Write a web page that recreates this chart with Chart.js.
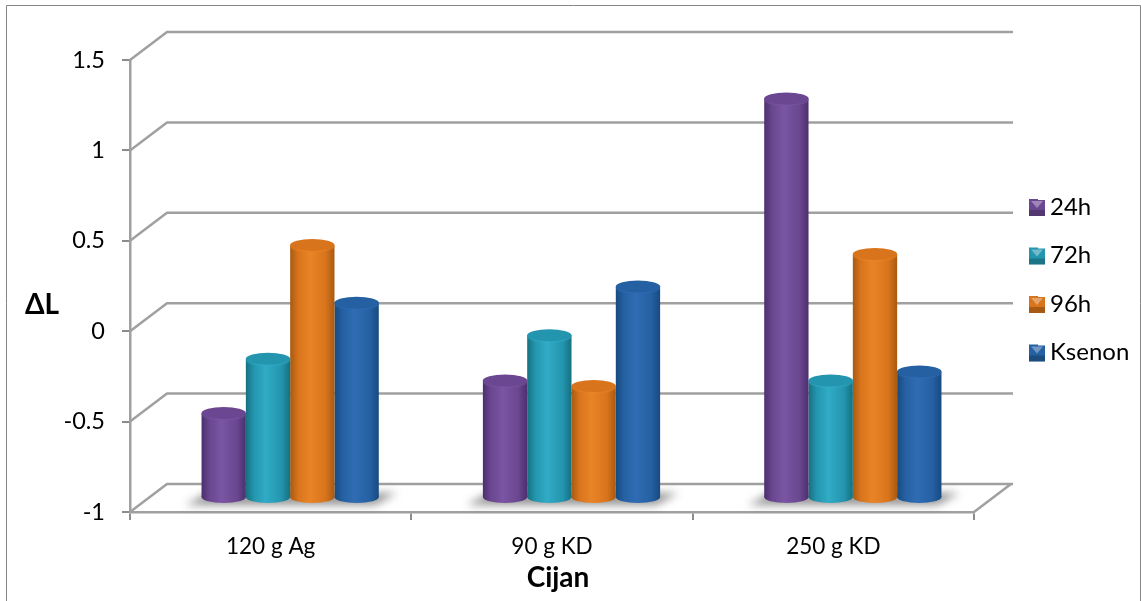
<!DOCTYPE html>
<html>
<head>
<meta charset="utf-8">
<title>Cijan</title>
<script src="https://cdn.jsdelivr.net/npm/chart.js@4/dist/chart.umd.min.js"></script>
<style>
  html, body { margin: 0; background: #fff; }
  canvas { display: block; }
</style>
</head>
<body>
<canvas id="chart" width="1141" height="601"></canvas>
<script>
// Values
const categories = ['120 g Ag', '90 g KD', '250 g KD'];
const seriesNames = ['24h', '72h', '96h', 'Ksenon'];
const values24h = [-0.53, -0.35, 1.21];
const values72h = [-0.23, -0.10, -0.35];
const values96h = [0.40, -0.38, 0.35];
const valuesKsenon = [0.08, 0.17, -0.30];
const seriesValues = [values24h, values72h, values96h, valuesKsenon];

// [edge, mid, light] tone of each cylinder
const SERIES_TONES = [
    ['#4c2f6e', '#6a4790', '#7a55a3'],
    ['#15707f', '#2495ae', '#31abc6'],
    ['#a85a12', '#d8741c', '#e98426'],
    ['#174a80', '#2560a2', '#2f6cb3']
];

const FONT = 'Lato, Carlito, "Open Sans", sans-serif';
const GRID_COLOR = '#a0a0a0';
const DEPTH_X = 37;
const DEPTH_Y = 28;
const BAR_SHIFT_X = 19.5;
const BAR_SHIFT_Y = 14;
const CAP_RY = 6;
const LEGEND_FONT_SIZE = 24;
const LEGEND_PADDING = 24.5;
const LEGEND_PITCH = LEGEND_FONT_SIZE + LEGEND_PADDING;

function cylinderGradient(ctx, left, right, tones) {
    const g = ctx.createLinearGradient(left, 0, right, 0);
    g.addColorStop(0, tones[0]);
    g.addColorStop(0.18, tones[1]);
    g.addColorStop(0.45, tones[2]);
    g.addColorStop(0.8, tones[1]);
    g.addColorStop(1, tones[0]);
    return g;
}

function ellipse(ctx, x, y, rx, ry) {
    ctx.beginPath();
    ctx.ellipse(x, y, rx, ry, 0, 0, Math.PI * 2);
    ctx.fill();
}

function boldLabel(ctx, text, x, y) {
    ctx.save();
    ctx.font = 'bold 28px ' + FONT;
    ctx.fillStyle = '#000';
    ctx.textAlign = 'center';
    ctx.textBaseline = 'middle';
    ctx.fillText(text, x, y);
    ctx.restore();
}

// Back wall, floor, frame and the floor shadows
const cylinderPlugin = {
    id: 'cylinder3d',
    beforeLayout(chart) {
        // legend keeps a fixed column so the plot ends where the picture's does
        const legend = chart.legend;
        if (!legend._fitWrapped) {
            const fit = legend.fit;
            legend.fit = function () {
                fit.call(this);
                this.width = 167;
            };
            legend._fitWrapped = true;
        }
    },
    afterLayout(chart) {
        chart.legend.left = 1029 - LEGEND_PADDING;
        chart.legend.top = 207 - LEGEND_FONT_SIZE / 2 - LEGEND_PADDING;
    },
    beforeDatasetsDraw(chart) {
        const ctx = chart.ctx;
        const yScale = chart.scales.y;
        const area = chart.chartArea;

        ctx.save();
        ctx.strokeStyle = GRID_COLOR;
        ctx.lineWidth = 2.5;
        ctx.lineJoin = 'round';
        yScale.ticks.forEach(tick => {
            const y = yScale.getPixelForValue(tick.value);
            ctx.beginPath();
            ctx.moveTo(area.left, y);
            ctx.lineTo(area.left + DEPTH_X, y - DEPTH_Y);
            ctx.lineTo(area.right + DEPTH_X + 2, y - DEPTH_Y);
            ctx.stroke();
        });
        ctx.beginPath();
        ctx.moveTo(area.right + DEPTH_X, area.bottom - DEPTH_Y);
        ctx.lineTo(area.right, area.bottom);
        ctx.stroke();
        ctx.restore();

        // the outer frame has no bottom edge in the picture
        ctx.save();
        ctx.strokeStyle = '#868686';
        ctx.lineWidth = 1;
        ctx.beginPath();
        ctx.moveTo(6.5, 601);
        ctx.lineTo(6.5, 5.5);
        ctx.lineTo(1140.5, 5.5);
        ctx.lineTo(1140.5, 601);
        ctx.stroke();
        ctx.restore();

        // everything from here to afterDatasetsDraw sits mid depth
        ctx.save();
        ctx.translate(BAR_SHIFT_X, -BAR_SHIFT_Y);

        const metas = seriesValues.map((_, i) => chart.getDatasetMeta(i));
        const base = yScale.getPixelForValue(-1);

        categories.forEach((_, c) => {
            const first = metas[0].data[c];
            const last = metas[metas.length - 1].data[c];
            const left = first.x - first.width / 2;
            const right = last.x + last.width / 2;
            ctx.save();
            ctx.filter = 'blur(4px)';
            ctx.fillStyle = 'rgba(40, 40, 40, 0.5)';
            ctx.beginPath();
            ctx.moveTo(left - 16, base + 7);
            ctx.lineTo(right - 4, base + 7);
            ctx.lineTo(right + 18, base - 5);
            ctx.lineTo(left + 6, base - 5);
            ctx.closePath();
            ctx.fill();
            ctx.restore();
        });

        metas.forEach((meta, s) => {
            meta.data.forEach(el => {
                const left = el.x - el.width / 2;
                const right = el.x + el.width / 2;
                const grad = cylinderGradient(ctx, left, right, SERIES_TONES[s]);
                el.options = Object.assign({}, el.options, { backgroundColor: grad });
                // round foot of the cylinder
                ctx.fillStyle = grad;
                ellipse(ctx, el.x, el.base, el.width / 2, CAP_RY);
            });
        });
    },
    afterDatasetsDraw(chart) {
        const ctx = chart.ctx;
        seriesValues.forEach((_, s) => {
            chart.getDatasetMeta(s).data.forEach(el => {
                const tones = SERIES_TONES[s];
                const rx = el.width / 2;
                ctx.save();
                ctx.fillStyle = tones[2];
                ctx.globalAlpha = 0.55;
                ellipse(ctx, el.x, el.y + 1.5, rx, CAP_RY);
                ctx.globalAlpha = 1;
                ctx.fillStyle = tones[1];
                ellipse(ctx, el.x, el.y, rx, CAP_RY);
                ctx.restore();
            });
        });
        ctx.restore();
    },
    afterDraw(chart) {
        const ctx = chart.ctx;
        const legend = chart.legend;

        // legend keys with the small lit wedge
        seriesValues.forEach((_, s) => {
            const x = legend.left + LEGEND_PADDING;
            const y = 200 + s * LEGEND_PITCH;
            ctx.save();
            ctx.fillStyle = SERIES_TONES[s][1];
            ctx.fillRect(x, y, 16, 16);
            ctx.fillStyle = 'rgba(255, 255, 255, 0.35)';
            ctx.beginPath();
            ctx.moveTo(x + 2, y + 1);
            ctx.lineTo(x + 14, y + 1);
            ctx.lineTo(x + 8, y + 8);
            ctx.closePath();
            ctx.fill();
            ctx.fillStyle = 'rgba(0, 0, 0, 0.22)';
            ctx.fillRect(x, y + 10, 16, 6);
            ctx.restore();
        });

        // axis titles sit off centre in the picture
        boldLabel(ctx, 'ΔL', 42, 305);
        boldLabel(ctx, 'Cijan', 558, 578);
    }
};

new Chart(document.getElementById('chart'), {
    type: 'bar',
    data: {
        labels: categories,
        datasets: seriesNames.map((name, i) => ({
            label: name,
            data: seriesValues[i],
            base: -1,
            backgroundColor: SERIES_TONES[i][1],
            borderWidth: 0,
            clip: false,
            categoryPercentage: 0.63,
            barPercentage: 1
        }))
    },
    options: {
        responsive: false,
        animation: false,
        layout: { padding: { top: 60 } },
        plugins: {
            title: { display: false },
            tooltip: { enabled: false },
            legend: {
                position: 'right',
                align: 'start',
                labels: {
                    boxWidth: 9,
                    boxHeight: 16,
                    padding: LEGEND_PADDING,
                    color: '#000',
                    font: { family: FONT, size: LEGEND_FONT_SIZE }
                }
            }
        },
        scales: {
            x: {
                afterFit: scale => { scale.height = 89; },
                grid: {
                    offset: true,
                    drawOnChartArea: false,
                    color: '#8c8c8c',
                    lineWidth: 2,
                    tickLength: 8
                },
                border: { color: GRID_COLOR, width: 2.5 },
                ticks: {
                    color: '#000',
                    padding: 13,
                    font: { family: FONT, size: 22.5 }
                }
            },
            y: {
                min: -1,
                max: 1.5,
                afterFit: scale => { scale.width = 130; },
                grid: {
                    drawOnChartArea: false,
                    color: '#8c8c8c',
                    lineWidth: 2,
                    tickLength: 8
                },
                border: { color: GRID_COLOR, width: 2.5 },
                ticks: {
                    stepSize: 0.5,
                    color: '#000',
                    padding: 17,
                    font: { family: FONT, size: 23.5 },
                    callback: value => String(value)
                }
            }
        }
    },
    plugins: [cylinderPlugin]
});
</script>
</body>
</html>
